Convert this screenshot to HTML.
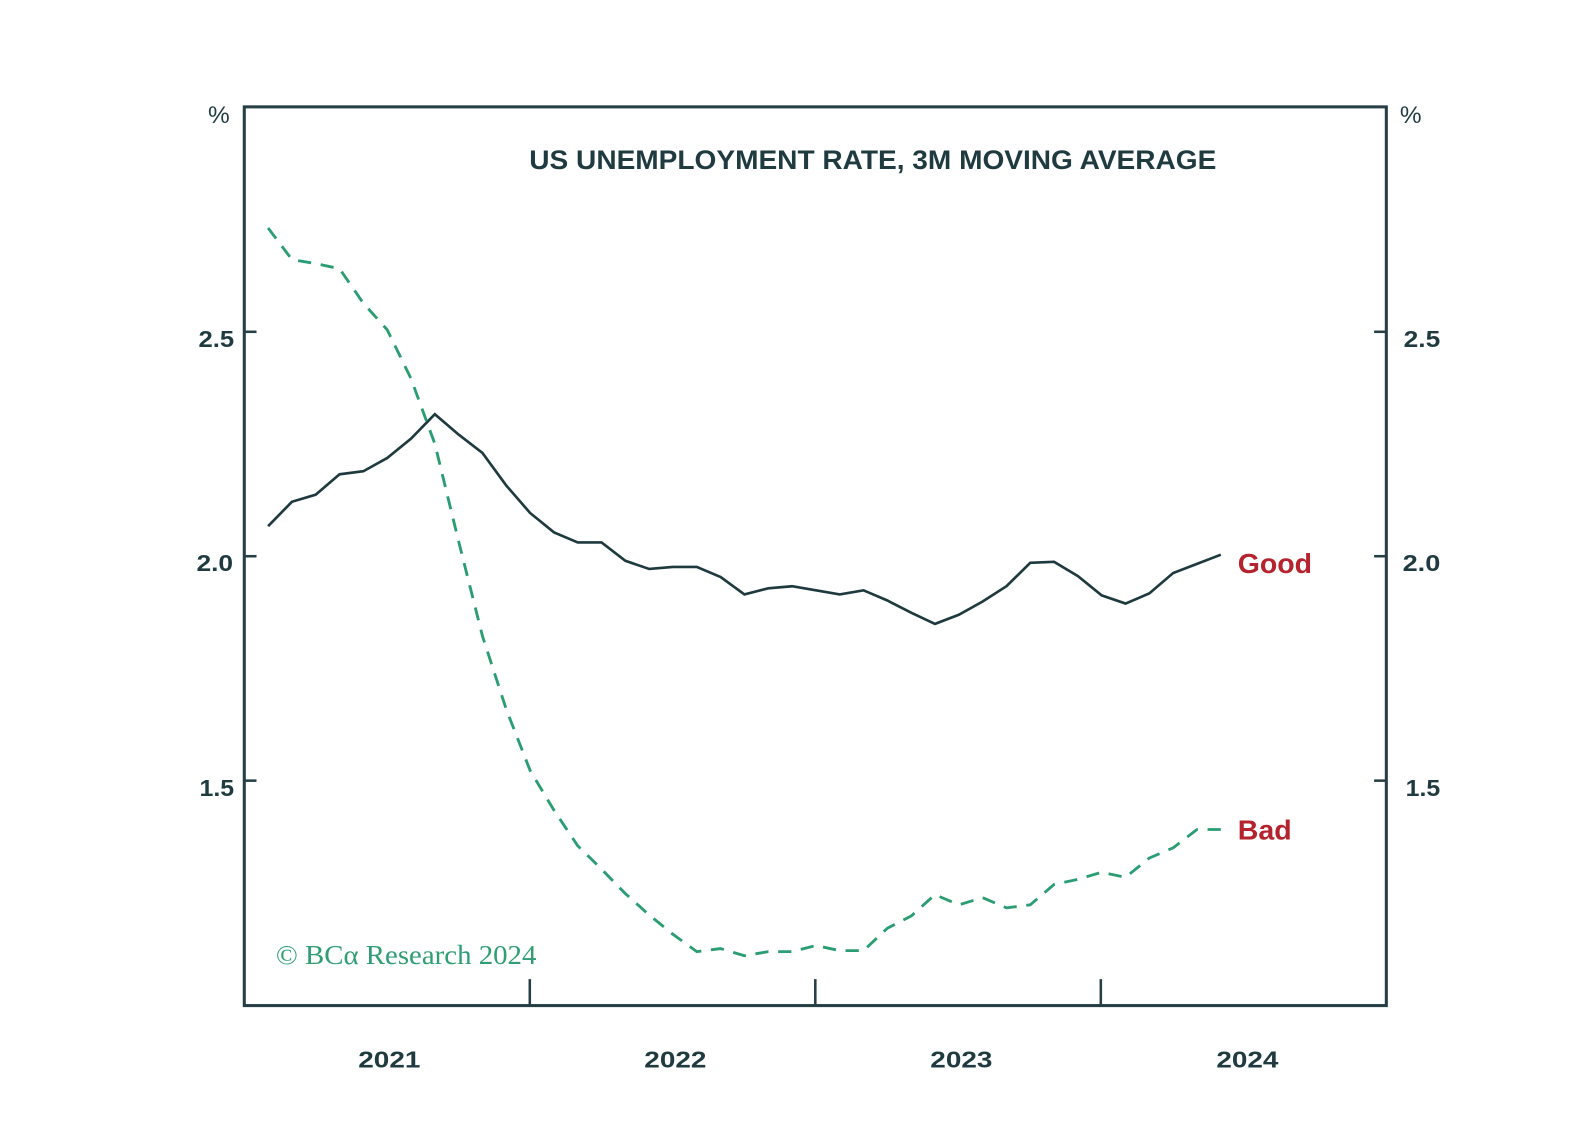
<!DOCTYPE html>
<html>
<head>
<meta charset="utf-8">
<style>
  html, body { margin: 0; padding: 0; background: #ffffff; }
  svg { display: block; }
  .lbl { font-family: "Liberation Sans", sans-serif; font-weight: bold; fill: #1f3b40; }
</style>
</head>
<body>
<svg width="1596" height="1144" viewBox="0 0 1568 1124" preserveAspectRatio="none" xmlns="http://www.w3.org/2000/svg">
  <rect x="0" y="0" width="1568" height="1124" fill="#ffffff"/>

  <!-- Title -->
  <text class="lbl" x="520" y="166" font-size="26" textLength="675" lengthAdjust="spacingAndGlyphs">US UNEMPLOYMENT RATE, 3M MOVING AVERAGE</text>

  <!-- Percent signs -->
  <text x="215" y="121" font-family="Liberation Sans, sans-serif" font-size="24" fill="#1f3b40" text-anchor="middle">%</text>
  <text x="1386" y="121" font-family="Liberation Sans, sans-serif" font-size="24" fill="#1f3b40" text-anchor="middle">%</text>

  <!-- Left tick labels -->
  <text class="lbl" x="195" y="341" font-size="23" textLength="35" lengthAdjust="spacingAndGlyphs">2.5</text>
  <text class="lbl" x="193" y="561" font-size="23" textLength="36" lengthAdjust="spacingAndGlyphs">2.0</text>
  <text class="lbl" x="196" y="782" font-size="23" textLength="34" lengthAdjust="spacingAndGlyphs">1.5</text>

  <!-- Right tick labels -->
  <text class="lbl" x="1379" y="341" font-size="23" textLength="36" lengthAdjust="spacingAndGlyphs">2.5</text>
  <text class="lbl" x="1378" y="561" font-size="23" textLength="37" lengthAdjust="spacingAndGlyphs">2.0</text>
  <text class="lbl" x="1381" y="782" font-size="23" textLength="34" lengthAdjust="spacingAndGlyphs">1.5</text>

  <!-- Year labels -->
  <text class="lbl" x="352" y="1049" font-size="23" textLength="61" lengthAdjust="spacingAndGlyphs">2021</text>
  <text class="lbl" x="633" y="1049" font-size="23" textLength="61" lengthAdjust="spacingAndGlyphs">2022</text>
  <text class="lbl" x="914" y="1049" font-size="23" textLength="61" lengthAdjust="spacingAndGlyphs">2023</text>
  <text class="lbl" x="1195" y="1049" font-size="23" textLength="61" lengthAdjust="spacingAndGlyphs">2024</text>

  <!-- Frame -->
  <rect x="240" y="105" width="1122" height="883" fill="none" stroke="#263f45" stroke-width="3"/>

  <!-- Y ticks (inward) -->
  <g stroke="#263f45" stroke-width="2.5">
    <line x1="240" y1="326" x2="252" y2="326"/>
    <line x1="240" y1="546.5" x2="252" y2="546.5"/>
    <line x1="240" y1="767" x2="252" y2="767"/>
    <line x1="1350" y1="326" x2="1362" y2="326"/>
    <line x1="1350" y1="546.5" x2="1362" y2="546.5"/>
    <line x1="1350" y1="767" x2="1362" y2="767"/>
    <!-- X ticks (inward, upward) -->
    <line x1="520.5" y1="962" x2="520.5" y2="988"/>
    <line x1="801" y1="962" x2="801" y2="988"/>
    <line x1="1081.5" y1="962" x2="1081.5" y2="988"/>
  </g>

  <!-- Good series (solid) -->
  <polyline fill="none" stroke="#1f3a3f" stroke-width="2.6" stroke-linejoin="miter" stroke-linecap="butt"
    points="263.4,517 286.8,493 310.2,486 333.6,466 357,463 380.4,450 403.8,431 427.2,407 450.6,427 474,445 497.4,477 520.8,504 544.2,523 567.6,533 591,533 614.4,551 637.8,559 661.2,557 684.6,557 708,567 731.4,584 754.8,578 778.2,576 801.6,580 825,584 848.4,580 871.8,590 895.2,602 918.6,613 942,604 965.4,591 988.8,576 1012.2,553 1035.6,552 1059,566 1082.4,585 1105.8,593 1129.2,583 1152.6,563 1176,554 1199.4,545"/>

  <!-- Bad series (dashed) -->
  <polyline fill="none" stroke="#2a9d72" stroke-width="2.8" stroke-dasharray="13 9.5" stroke-linejoin="round"
    points="263.4,224 286.8,255 310.2,259 333.6,264 357,298 380.4,324 403.8,372 427.2,436 450.6,532 474,625 497.4,697 520.8,757 544.2,796 567.6,831 591,854 614.4,878 637.8,899 661.2,918 684.6,935 708,932 731.4,939 754.8,935 778.2,935 801.6,929 825,934 848.4,934 871.8,912 895.2,900 918.6,879 942,889 965.4,882 988.8,892 1012.2,889 1035.6,869 1059,864 1082.4,857 1105.8,862 1129.2,843 1152.6,833 1176,815 1199.4,815"/>

  <!-- Series labels -->
  <text x="1216" y="563" font-family="Liberation Sans, sans-serif" font-weight="bold" font-size="27" fill="#b5232e" textLength="73" lengthAdjust="spacingAndGlyphs">Good</text>
  <text x="1216" y="825" font-family="Liberation Sans, sans-serif" font-weight="bold" font-size="27" fill="#b5232e" textLength="53" lengthAdjust="spacingAndGlyphs">Bad</text>

  <!-- Copyright -->
  <text x="271" y="947" font-family="Liberation Serif, serif" font-size="27" fill="#2f9e74" textLength="256" lengthAdjust="spacingAndGlyphs">© BCα Research 2024</text>
</svg>
</body>
</html>
